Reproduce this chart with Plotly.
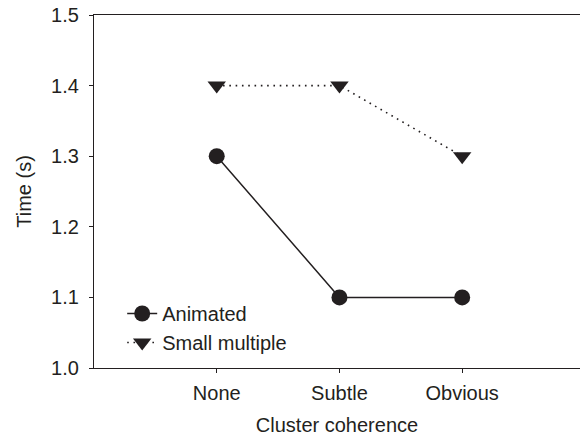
import plotly.graph_objects as go

categories = ["None", "Subtle", "Obvious"]
positions = [1, 2, 3]
animated = [1.3, 1.1, 1.1]
small_multiple = [1.4, 1.4, 1.3]
y_ticks = [1.0, 1.1, 1.2, 1.3, 1.4, 1.5]

ink = "#231f20"
font = dict(family="Liberation Sans, Arial, sans-serif", size=20, color=ink)

fig = go.Figure()
fig.add_trace(go.Scatter(
    x=positions, y=animated, name="Animated", mode="lines+markers",
    line=dict(color=ink, width=1.5),
    marker=dict(symbol="circle", size=16, color=ink),
))
fig.add_trace(go.Scatter(
    x=positions, y=small_multiple, name="Small multiple", mode="lines+markers",
    line=dict(color=ink, width=1.6, dash="1.6px,4.7px"),
    marker=dict(symbol="triangle-down", size=16, color=ink),
))

fig.update_layout(
    width=580, height=439,
    margin=dict(l=94, r=0, t=15, b=71),
    paper_bgcolor="white", plot_bgcolor="white",
    font=font,
    showlegend=True,
    legend=dict(x=0.058, y=0.017, xanchor="left", yanchor="bottom",
                bgcolor="rgba(0,0,0,0)", font=font, tracegroupgap=0,
                itemsizing="trace"),
    xaxis=dict(
        range=[0, 3.96], tickvals=positions, ticktext=categories,
        showline=True, linecolor=ink, linewidth=1.3, mirror=True,
        ticks="outside", ticklen=4, tickcolor=ink, tickwidth=1,
        showgrid=False, zeroline=False,
        ticklabelstandoff=3,
        title=dict(text="Cluster coherence", standoff=14, font=font),
        tickfont=font,
    ),
    yaxis=dict(
        range=[1.0, 1.5], tickvals=y_ticks, tickformat=".1f",
        showline=True, linecolor=ink, linewidth=1.3, mirror=False,
        ticks="outside", ticklen=4, tickcolor=ink, tickwidth=1,
        showgrid=False, zeroline=False,
        ticklabelstandoff=6,
        title=dict(text="Time (s)", standoff=14, font=font),
        tickfont=font,
    ),
)

fig.write_html("out.html")
